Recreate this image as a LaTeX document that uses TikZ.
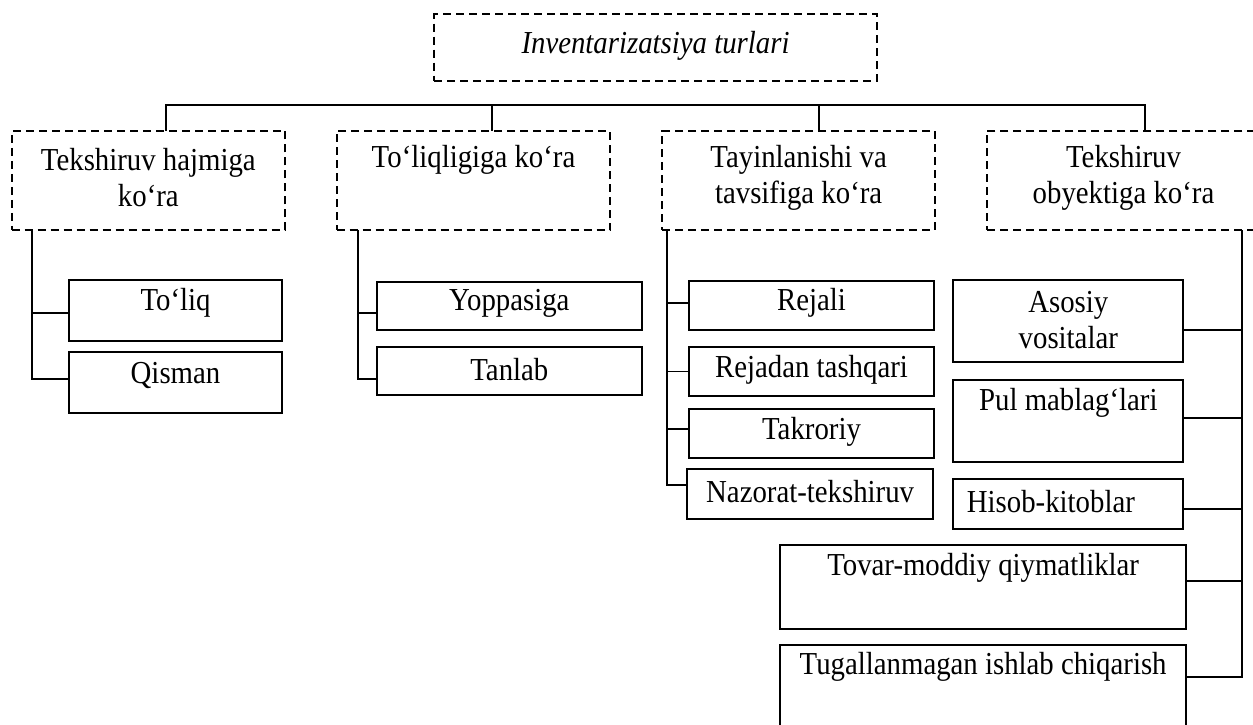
\documentclass[tikz,border=0pt]{standalone}
\usepackage{fontspec}
\setmainfont{Liberation Serif}[FakeStretch=0.9]
\begin{document}
\begin{tikzpicture}[x=1pt,y=-1pt,
  box/.style={draw, line width=1.8pt, rectangle, inner sep=0pt, outer sep=0pt},
  dbox/.style={box, dash pattern=on 8pt off 5pt},
  lbl/.style={font=\fontsize{32}{36}\selectfont, align=center, inner sep=0pt},
  conn/.style={line width=1.8pt}]
\useasboundingbox (0,0) rectangle (1253,725);
% level 1
\node[dbox, minimum width=443pt, minimum height=66.7pt] (top) at (655.5,47.65) {};
\node[lbl] (ttop) at (655.5,46) {\textit{Inventarizatsiya turlari}};
% level 2
\node[dbox, minimum width=273.3pt, minimum height=99.3pt] (b1) at (148.35,180.35) {};
\node[dbox, minimum width=273.6pt, minimum height=99.3pt] (b2) at (473.5,180.35) {};
\node[dbox, minimum width=272.7pt, minimum height=99.3pt] (b3) at (798.65,180.35) {};
\node[dbox, minimum width=273pt, minimum height=99.3pt] (b4) at (1123.5,180.35) {};
\node[lbl] (tb1) at (148.35,178) {Tekshiruv hajmiga\\ko‘ra};
\node[lbl] (tb2) at (473.5,160) {To‘liqligiga ko‘ra};
\node[lbl] (tb3) at (798.65,178) {Tayinlanishi va\\tavsifiga ko‘ra};
\node[lbl] (tb4) at (1123.5,178) {Tekshiruv\\obyektiga ko‘ra};
% level 3
\node[box, minimum width=212.4pt, minimum height=61pt] (toliq) at (175.5,310.5) {};
\node[box, minimum width=212.4pt, minimum height=61.3pt] (qisman) at (175.5,382.35) {};
\node[box, minimum width=265.3pt, minimum height=48.3pt] (yopp) at (509.35,305.85) {};
\node[box, minimum width=265.3pt, minimum height=48.6pt] (tanlab) at (509.35,371) {};
\node[box, minimum width=245.6pt, minimum height=49.3pt] (rejali) at (811.5,305.35) {};
\node[box, minimum width=245.6pt, minimum height=49pt] (rejadan) at (811.5,371.5) {};
\node[box, minimum width=245.6pt, minimum height=49.3pt] (takror) at (811.5,433.35) {};
\node[box, minimum width=246.3pt, minimum height=49.4pt] (nazorat) at (810.15,494) {};
\node[box, minimum width=230pt, minimum height=82pt] (asosiy) at (1068.3,321) {};
\node[box, minimum width=230pt, minimum height=81.7pt] (pul) at (1068.3,421.15) {};
\node[box, minimum width=230pt, minimum height=49.4pt] (hisob) at (1068.3,504) {};
\node[box, minimum width=405.7pt, minimum height=83.4pt] (tovar) at (983.15,587) {};
\node[box, minimum width=405.7pt, minimum height=94.7pt] (tugal) at (983.15,692.65) {};
\node[lbl] (ttoliq) at (175.5,303) {To‘liq};
\node[lbl] (tqisman) at (175.5,375) {Qisman};
\node[lbl] (tyopp) at (509.35,303) {Yoppasiga};
\node[lbl] (ttanlab) at (509.35,370) {Tanlab};
\node[lbl] (trejali) at (811.5,303) {Rejali};
\node[lbl] (trejadan) at (811.5,370) {Rejadan tashqari};
\node[lbl] (ttakror) at (811.5,431.5) {Takroriy};
\node[lbl] (tnazorat) at (810.15,491.5) {Nazorat-tekshiruv};
\node[lbl] (tasosiy) at (1068.3,320.5) {Asosiy\\vositalar};
\node[lbl] (tpul) at (1068.3,403) {Pul mablag‘lari};
\node[lbl, anchor=west] (thisob) at (966.7,501.5) {Hisob-kitoblar};
\node[lbl] (ttovar) at (983.15,568) {Tovar-moddiy qiymatliklar};
\node[lbl] (ttugal) at (983.15,667) {Tugallanmagan ishlab chiqarish};
% bus
\coordinate (j1) at ([xshift=17.35pt]b1.north);
\coordinate (j2) at ([xshift=18.5pt]b2.north);
\coordinate (j3) at ([xshift=20.35pt]b3.north);
\coordinate (j4) at ([xshift=21.8pt]b4.north);
\draw[conn] (j1) -- ++(0,-25.7) -| (j4);
\draw[conn] (j2) -- ++(0,-25.7);
\draw[conn] (j3) -- ++(0,-25.7);
% children connectors
\coordinate (s1) at ([xshift=20pt]b1.south west);
\coordinate (s2) at ([xshift=21pt]b2.south west);
\coordinate (s3) at ([xshift=5pt]b3.south west);
\coordinate (s4) at ([xshift=-18.3pt]b4.south east);
\draw[conn] (s1) |- ([yshift=-2.8pt]toliq.west);
\draw[conn] (s1) |- ([yshift=3.65pt]qisman.west);
\draw[conn] (s2) |- ([yshift=-7.45pt]yopp.west);
\draw[conn] (s2) |- ([yshift=-7.7pt]tanlab.west);
\draw[conn] (s3) |- ([yshift=2.65pt]rejali.west);
\draw[conn] (s3) |- (rejadan.west);
\draw[conn] (s3) |- ([yshift=4.65pt]takror.west);
\draw[conn] (s3) |- ([yshift=9.3pt]nazorat.west);
\draw[conn] (s4) |- ([yshift=-9pt]asosiy.east);
\draw[conn] (s4) |- ([yshift=3.15pt]pul.east);
\draw[conn] (s4) |- ([yshift=-5.3pt]hisob.east);
\draw[conn] (s4) |- ([yshift=5.7pt]tovar.east);
\draw[conn] (s4) |- ([yshift=15.65pt]tugal.east);
\end{tikzpicture}
\end{document}
